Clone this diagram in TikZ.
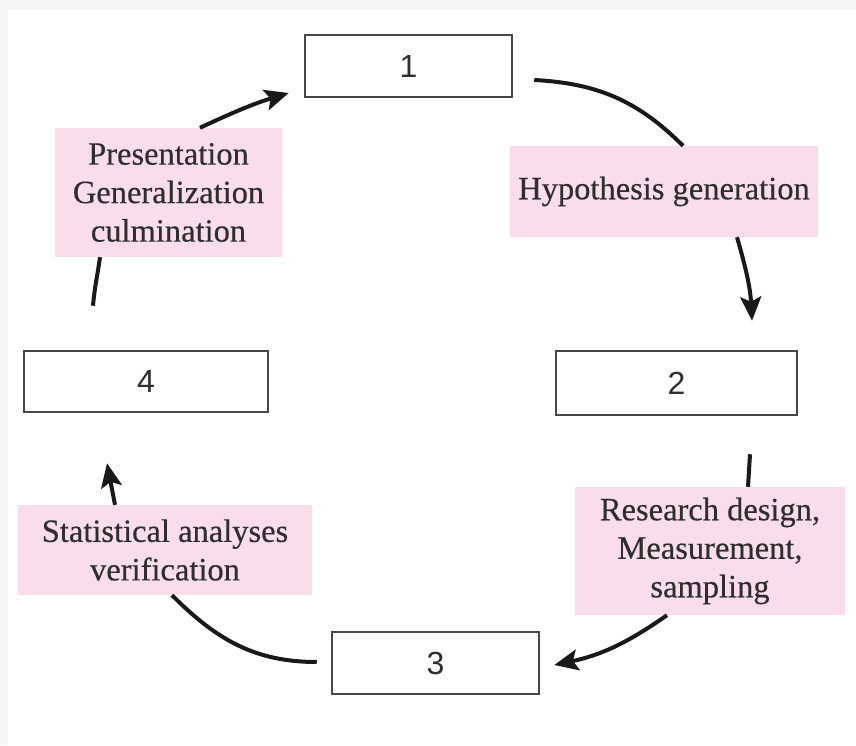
\documentclass[tikz,border=0pt]{standalone}
\usepackage{fontspec}
\setmainfont{Liberation Serif}[FakeBold=0.4]
\newfontfamily\numfont{Liberation Sans}
\usetikzlibrary{arrows.meta}
\definecolor{pinkbg}{HTML}{F9DDEB}
\definecolor{txt}{HTML}{2E2E2E}
\begin{document}
\begin{tikzpicture}[x=1pt,y=1pt,
  numbox/.style={draw=black!72, line width=2.5pt, inner sep=0pt,
    font=\numfont\fontsize{32}{38}\selectfont, text=txt},
  pinkbox/.style={fill=pinkbg, inner sep=0pt, align=center,
    font=\fontsize{32.5}{38.5}\selectfont, text=txt},
  ln/.style={line width=4pt, black!90},
  arr/.style={ln, -{Stealth[length=24pt,width=21pt,inset=5pt]}}]
\fill[black!4] (0,0) rectangle (856,745);
\fill[white] (8,0) rectangle (856,735);
\useasboundingbox (0,0) rectangle (856,745);

\node[numbox, minimum width=207pt, minimum height=62pt] (b1) at (408.5,679) {1};
\node[numbox, minimum width=241pt, minimum height=64pt] (b2) at (676.5,362) {2};
\node[numbox, minimum width=207pt, minimum height=62pt] (b3) at (435.5,82) {3};
\node[numbox, minimum width=244pt, minimum height=61pt] (b4) at (146,363.5) {4};

\node[pinkbox, minimum width=308pt, minimum height=91pt] (H) at (664,553.5) {Hypothesis generation};
\node[pinkbox, minimum width=227pt, minimum height=129pt] (P) at (168.5,552.5) {Presentation\\Generalization\\culmination};
\node[pinkbox, minimum width=294pt, minimum height=90pt] (S) at (165,195) {Statistical analyses\\verification};
\node[pinkbox, minimum width=270pt, minimum height=128pt] (R) at (710,194) {Research design,\\Measurement,\\sampling};

\draw[ln] ([xshift=21pt,yshift=-14pt]b1.east) to[out=-3,in=135] ([xshift=19pt]H.north);
\draw[arr] ([xshift=73pt]H.south) to[out=-74,in=93] ([xshift=75.5pt,yshift=29pt]b2.north);
\draw[ln] ([xshift=73.5pt,yshift=-38pt]b2.south) -- ([xshift=38pt]R.north);
\draw[arr] ([xshift=-43pt]R.south) to[out=215,in=12] ([xshift=14pt,yshift=-2pt]b3.east);
\draw[ln] ([xshift=-14pt,yshift=1pt]b3.west) to[out=180,in=-45] ([xshift=7pt]S.south);
\draw[arr] ([xshift=-50pt]S.north) -- ([xshift=-39pt,yshift=-50pt]b4.south);
\draw[ln] ([xshift=-53pt,yshift=44pt]b4.north) to[out=85,in=-98] ([xshift=-68.5pt]P.south);
\draw[arr] ([xshift=31.5pt]P.north) to[out=25,in=197] ([xshift=-15pt,yshift=-27pt]b1.west);
\end{tikzpicture}
\end{document}
